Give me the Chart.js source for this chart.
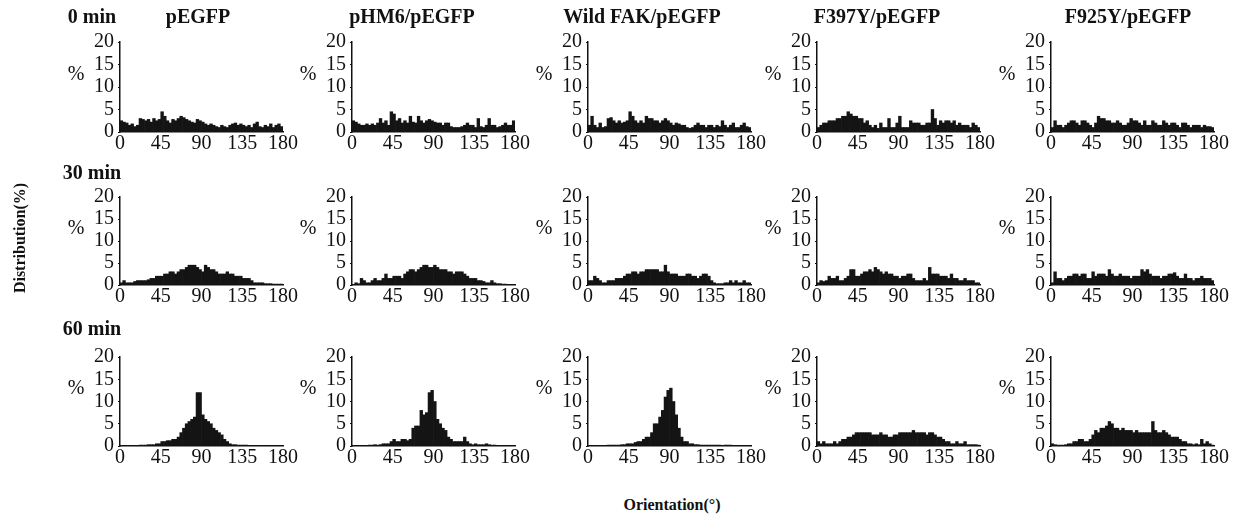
<!DOCTYPE html>
<html>
<head>
<meta charset="utf-8">
<script src="https://cdn.jsdelivr.net/npm/chart.js@4.4.0/dist/chart.umd.min.js"></script>
<style>
  body { margin: 0; background: #fff; width: 1251px; height: 519px; position: relative; overflow: hidden;
         font-family: "Liberation Serif", "DejaVu Serif", serif; color: #111; }
  .panel { position: absolute; }
  .lbl { position: absolute; white-space: nowrap; }
  .head { font-weight: bold; font-size: 20px; transform: translate(-50%, -50%); }
  .axt { font-weight: bold; font-size: 16px; transform: translate(-50%, -50%); }
  .pct { font-size: 20px; transform: translate(-50%, -50%); }
</style>
</head>
<body>
<script>
// column / row labels
const groups = ['pEGFP', 'pHM6/pEGFP', 'Wild FAK/pEGFP', 'F397Y/pEGFP', 'F925Y/pEGFP']
const times = ['0 min', '30 min', '60 min']
const xTicks = [0, 45, 90, 135, 180]
const yTicks = [0, 5, 10, 15, 20]

// distribution (%) per 3 degree bin, 0-180
const pegfp0 = [2.5,2.2,2.0,1.5,1.8,1.2,1.5,3.0,2.8,2.5, 2.8,2.2,3.0,2.5,2.8,4.5,3.5,2.5,2.0,2.8, 2.5,3.0,3.5,3.2,2.8,2.5,2.2,2.0,2.8,2.5, 2.2,1.8,1.5,1.8,1.5,1.2,1.0,1.5,1.2,1.0, 1.5,1.8,2.0,1.5,1.8,1.5,1.2,1.5,1.0,1.8, 2.2,1.2,1.0,1.5,1.2,1.8,1.0,1.5,1.8,1.2]
const phm6_0 = [2.5,2.2,1.8,1.5,1.5,1.8,1.5,1.8,1.5,2.0, 3.0,2.0,2.5,1.5,4.5,4.0,2.5,3.0,2.0,2.5, 2.0,3.5,2.2,2.0,3.5,2.5,2.0,2.5,2.8,2.5, 2.2,2.0,2.0,1.5,2.0,2.0,1.2,1.0,1.0,1.0, 1.2,1.5,2.0,1.5,1.5,1.0,3.0,1.2,1.0,1.5, 3.0,1.5,1.5,1.0,1.2,1.5,2.0,1.5,1.5,2.5]
const wild0 = [1.5,3.5,1.5,1.0,2.0,1.0,1.2,3.0,3.2,2.5, 2.0,2.5,2.0,2.2,2.5,4.5,3.5,2.5,2.0,2.5, 2.0,3.5,3.0,3.0,2.5,2.5,2.0,2.5,3.0,2.5, 2.0,1.5,2.0,1.8,1.5,1.5,1.0,0.8,1.0,1.5, 2.0,1.5,1.5,1.0,1.5,1.5,1.0,1.5,1.2,2.5, 1.5,1.0,1.5,2.0,1.0,1.0,1.5,2.0,1.2,1.0]
const f397y0 = [1.0,1.5,2.0,2.0,2.5,2.5,2.5,3.0,3.0,3.5, 3.5,4.5,4.0,3.5,3.5,3.0,3.0,2.0,2.5,1.5, 1.0,1.5,0.8,2.0,1.0,1.0,3.0,1.0,1.0,2.0, 3.5,1.0,1.0,1.0,2.5,2.0,2.0,2.0,1.5,1.5, 2.0,2.0,5.0,3.0,1.5,2.5,2.0,2.5,2.5,2.0, 2.5,1.5,2.0,1.5,1.5,1.5,1.0,2.0,1.5,1.0]
const f925y0 = [1.0,2.5,1.5,1.5,1.0,1.5,2.0,2.5,2.5,2.0, 1.5,2.5,2.5,2.0,1.5,1.0,2.0,3.5,3.0,3.0, 2.5,2.5,2.0,2.0,2.5,2.0,1.5,1.5,2.0,3.0, 2.5,2.5,2.0,1.5,2.5,1.5,1.5,2.5,2.0,1.5, 1.5,2.5,2.0,1.5,2.0,2.0,1.5,1.0,2.0,2.0, 1.5,1.0,1.5,1.5,1.5,1.0,1.5,1.2,1.2,1.0]

const pegfp30 = [0.5,1.0,0.5,0.5,0.5,0.8,1.0,1.0,1.0,1.0, 1.2,1.5,1.5,2.0,2.0,2.0,2.5,2.5,3.0,3.0, 2.5,3.0,3.5,3.5,4.0,4.5,4.5,4.5,4.0,3.5, 3.0,4.5,4.0,3.5,3.5,3.0,2.5,2.5,2.5,3.0, 2.5,2.5,2.0,2.0,2.0,1.5,1.5,1.5,1.0,0.5, 0.5,0.5,0.5,0.3,0.3,0.3,0.2,0.2,0.2,0.2]
const phm6_30 = [0.0,0.5,0.3,1.5,1.0,0.5,0.5,1.0,1.5,1.0, 1.0,1.5,2.5,1.5,1.5,2.0,2.0,2.0,1.5,2.5, 3.0,3.5,3.5,3.0,3.5,4.0,4.5,4.5,4.0,4.0, 4.5,4.0,3.5,3.5,3.5,3.0,3.0,2.5,3.0,3.0, 3.0,2.5,2.0,1.5,1.5,1.5,1.0,1.0,0.8,0.5, 0.5,1.0,0.5,0.3,0.3,0.2,0.2,0.0,0.0,0.0]
const wild30 = [1.0,1.0,2.0,1.5,1.0,0.5,0.5,1.0,1.0,1.0, 1.5,1.5,1.5,2.0,2.5,2.5,3.0,3.0,2.5,3.0, 3.0,3.5,3.5,3.5,3.5,3.5,3.0,3.0,4.5,3.0, 2.5,2.5,2.5,2.0,2.0,2.0,2.5,2.5,2.0,2.0, 1.5,2.0,2.5,2.5,2.0,1.0,0.5,0.3,0.3,0.3, 0.5,0.5,1.0,0.5,1.0,0.5,0.5,1.0,0.5,0.5]
const f397y30 = [0.5,1.0,0.8,1.0,2.0,1.5,1.5,2.0,1.0,1.0, 1.5,2.0,3.5,3.5,2.0,2.0,2.5,3.0,3.0,3.5, 3.0,4.0,3.5,3.0,2.5,3.0,2.5,2.5,2.0,2.0, 1.5,2.0,2.0,2.5,2.5,1.5,1.0,1.0,1.0,1.5, 1.0,4.0,2.5,2.5,2.5,2.0,2.0,2.0,1.5,2.5, 1.5,1.5,1.0,1.0,1.5,1.0,1.0,1.0,0.5,0.5]
const f925y30 = [0.5,3.0,1.5,1.5,1.0,1.5,2.0,2.0,2.5,2.5, 2.0,2.5,2.5,1.5,1.5,3.0,2.0,2.5,2.5,2.5, 2.0,3.5,2.5,2.0,2.0,2.5,2.0,2.0,2.0,1.5, 2.0,2.0,2.0,3.5,3.0,3.5,2.5,2.0,2.0,2.0, 1.5,2.0,2.0,2.5,2.5,2.8,2.0,1.5,1.5,2.5, 1.5,1.5,1.0,1.5,1.5,2.0,1.5,1.5,1.5,1.0]

const pegfp60 = [0.0,0.0,0.0,0.0,0.0,0.0,0.0,0.2,0.2,0.2, 0.3,0.3,0.3,0.5,0.5,1.0,1.0,1.2,1.2,1.5, 1.5,2.0,3.0,4.0,5.0,5.5,6.0,6.5,12.0,12.0, 7.0,6.0,5.5,5.0,4.0,3.5,3.0,2.5,1.5,1.0, 0.5,0.3,0.3,0.2,0.2,0.2,0.2,0.1,0.1,0.1, 0.1,0.1,0.1,0.0,0.0,0.0,0.0,0.0,0.0,0.0]
const phm6_60 = [0.0,0.0,0.0,0.0,0.0,0.0,0.2,0.2,0.3,0.2, 0.3,0.5,0.5,0.5,1.0,1.5,1.0,1.0,1.5,1.5, 1.2,1.5,4.0,4.5,4.5,8.0,7.0,7.5,12.0,12.5, 10.0,6.0,5.0,4.0,3.5,2.0,1.5,1.0,1.0,1.0, 1.0,2.0,1.0,0.5,0.3,0.5,0.3,0.3,0.3,0.5, 0.3,0.2,0.2,0.0,0.0,0.0,0.0,0.0,0.0,0.0]
const wild60 = [0.0,0.0,0.0,0.0,0.0,0.0,0.0,0.2,0.2,0.2, 0.2,0.2,0.3,0.3,0.5,0.5,0.5,0.8,1.0,1.0, 1.5,2.0,2.0,3.0,5.0,5.0,6.5,8.0,11.0,12.5, 13.0,10.0,7.0,4.0,2.0,1.0,1.0,0.5,0.5,0.3, 0.3,0.2,0.2,0.2,0.2,0.2,0.2,0.2,0.2,0.1, 0.2,0.2,0.2,0.1,0.1,0.0,0.0,0.0,0.0,0.0]
const f397y60 = [1.0,0.5,1.0,0.5,0.5,0.5,1.0,0.5,1.0,1.5, 1.5,2.0,2.0,2.5,3.0,3.0,3.0,3.0,3.0,3.0, 2.5,2.5,2.5,3.0,2.5,2.5,2.0,2.0,2.5,2.5, 3.0,3.0,3.0,3.0,3.0,3.5,3.0,3.0,3.0,3.0, 2.5,3.0,3.0,2.5,2.0,2.0,1.5,1.0,1.0,0.5, 0.5,1.0,0.5,0.5,1.0,0.3,0.3,0.3,0.3,0.2]
const f925y60 = [0.5,0.3,0.2,0.2,0.2,0.3,0.5,0.5,1.0,1.0, 1.5,1.5,1.0,1.0,1.5,2.5,3.5,3.0,4.0,4.0, 4.5,5.5,5.0,4.0,4.0,3.5,4.0,3.5,3.5,3.5, 3.0,3.5,3.0,3.0,3.0,3.0,3.0,5.5,3.5,3.0, 3.0,3.5,3.0,2.5,2.0,2.0,2.0,1.5,1.0,1.0, 0.5,0.5,0.3,0.5,0.3,1.5,0.5,1.0,0.5,0.2]

const grid = [
	[pegfp0, phm6_0, wild0, f397y0, f925y0],
	[pegfp30, phm6_30, wild30, f397y30, f925y30],
	[pegfp60, phm6_60, wild60, f397y60, f925y60]
]

const binWidth = 3
const binCenters = pegfp0.map((v, i) => i * binWidth + binWidth / 2)

// layout in page pixels
const axisLeft = [120, 352, 588, 817, 1051]
const plotTop = [38, 193, 353]
const plotH = [94, 92, 93]
const plotW = 163
const yAxisW = 46, xAxisH = 28, padTop = 12, padRight = 24

const tickFont = {family: 'Liberation Serif', size: 20}

function addLabel(text, x, y, cls) {
	const d = document.createElement('div')
	d.className = 'lbl ' + cls
	d.style.left = x + 'px'
	d.style.top = y + 'px'
	d.textContent = text
	document.body.appendChild(d)
	return d
}

grid.forEach((row, r) => {
	row.forEach((values, c) => {
		const w = yAxisW + plotW + padRight
		const h = padTop + plotH[r] + xAxisH
		const canvas = document.createElement('canvas')
		canvas.className = 'panel'
		canvas.width = w
		canvas.height = h
		canvas.style.left = (axisLeft[c] - yAxisW) + 'px'
		canvas.style.top = (plotTop[r] - padTop) + 'px'
		document.body.appendChild(canvas)

		new Chart(canvas.getContext('2d'), {
			type: 'bar',
			data: {
				datasets: [{
					data: values.map((v, i) => ({x: binCenters[i], y: v})),
					backgroundColor: '#141414',
					borderWidth: 0,
					barPercentage: 1,
					categoryPercentage: 1
				}]
			},
			options: {
				responsive: false,
				animation: false,
				layout: {padding: {top: padTop, right: padRight, left: 0, bottom: 0}},
				plugins: {legend: {display: false}, tooltip: {enabled: false}},
				scales: {
					x: {
						type: 'linear', min: 0, max: 180, offset: false,
						afterBuildTicks: s => { s.ticks = xTicks.map(v => ({value: v})) },
						afterFit: s => { s.height = xAxisH },
						grid: {display: false, drawTicks: false},
						border: {display: true, color: '#111', width: 1.5},
						ticks: {font: tickFont, color: '#111', padding: 0, maxRotation: 0, autoSkip: false}
					},
					y: {
						min: 0, max: 20,
						afterBuildTicks: s => { s.ticks = yTicks.map(v => ({value: v})) },
						afterFit: s => { s.width = yAxisW },
						grid: {drawOnChartArea: false, drawTicks: true, tickLength: 2, color: '#111'},
						border: {display: true, color: '#111', width: 1.5},
						ticks: {font: tickFont, color: '#111', padding: 4, autoSkip: false}
					}
				}
			}
		})

		addLabel('%', axisLeft[c] - 44, plotTop[r] + plotH[r] * 0.37, 'pct')
	})
})

// titles
const titleX = [198, 412, 642, 877, 1128]
groups.forEach((g, i) => addLabel(g, titleX[i], 16, 'head'))
const timeY = [16, 172, 328]
times.forEach((t, i) => addLabel(t, 92, timeY[i], 'head'))

addLabel('Orientation(°)', 672, 505, 'axt')
const yt = addLabel('Distribution(%)', 20, 238, 'axt')
yt.style.transform = 'translate(-50%, -50%) rotate(-90deg)'
</script>
</body>
</html>
